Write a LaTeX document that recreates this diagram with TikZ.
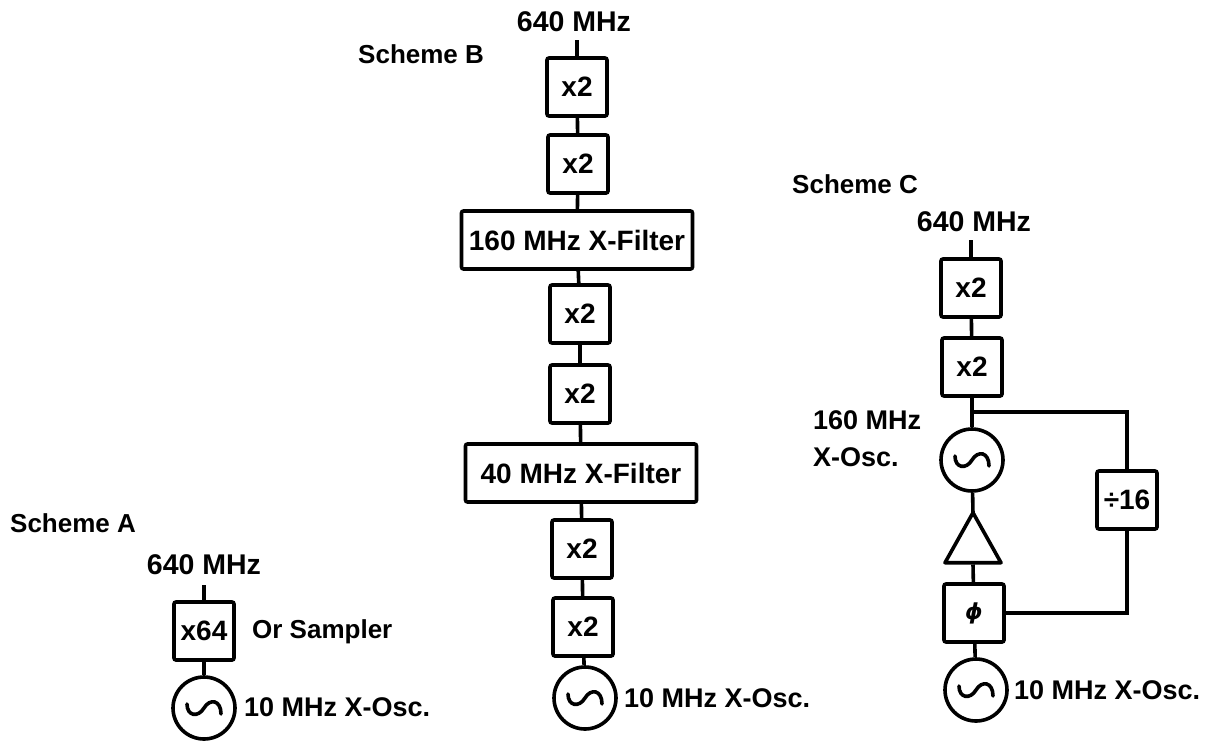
\documentclass[tikz,border=0pt]{standalone}
\usepackage{fontspec}
\setmainfont{Liberation Sans}
\newfontfamily\phasefont{DejaVu Sans}
\usetikzlibrary{shapes.geometric}
\def\multBoxes{{(204, 631)/xA/x64}, {(577, 87)/xBa/x2}, {(578, 164)/xBb/x2}, {(580, 314)/xBc/x2}, {(580, 394)/xBd/x2}, {(582, 549)/xBe/x2}, {(583, 627)/xBf/x2}, {(971, 288)/xCa/x2}, {(972, 367)/xCb/x2}}
\def\filterBoxes{{(577, 240)/filterHi/160 MHz X-Filter}, {(581, 473)/filterLo/40 MHz X-Filter}}
\def\oscillators{{(204, 708)/oscA}, {(585, 698)/oscB}, {(972, 460)/oscHi}, {(976, 690)/oscC}}
\def\outputs{{(204, 565)/outA/topA}, {(574, 22)/outB/topB}, {(974, 222)/outC/topC}}
\def\schemeNames{{(10, 523)/nameA/Scheme A}, {(358, 54)/nameB/Scheme B}, {(792, 184)/nameC/Scheme C}}
\def\sideLabels{{(244, 707)/tenA/10 MHz X-Osc.}, {(624, 698)/tenB/10 MHz X-Osc.}, {(1014, 690)/tenC/10 MHz X-Osc.}, {(813, 420)/hiA/160 MHz}, {(813, 457)/hiB/X-Osc.}}
\def\connect{topA/xA, xA/oscA, xBa/xBb, xBb/filterHi, filterHi/xBc, xBc/xBd, xBd/filterLo, filterLo/xBe, xBe/xBf, xBf/oscB, xCa/xCb, xCb/oscHi, phase/oscC}
\tikzstyle{textlabel}=[font=\fontsize{28}{30}\selectfont\bfseries,inner sep=0pt]
\tikzstyle{sidelabel}=[textlabel,anchor=west,font=\fontsize{27}{30}\selectfont\bfseries]
\tikzstyle{edge} = [draw, line width=3.6pt, -]
\tikzstyle{multbox}=[draw,line width=3.6pt,rounded corners=2pt,minimum width=60pt,minimum height=58pt,inner sep=0pt,textlabel]
\tikzstyle{filterbox}=[multbox,minimum width=231pt]
\tikzstyle{osc}=[circle,draw,line width=3.6pt,minimum size=62pt,inner sep=0pt,path picture={
    \draw[line width=3.6pt,line cap=round,shift={(path picture bounding box.center)}] (-17,-4) .. controls (-17,8) and (-6,10) .. (0,0) .. controls (6,-10) and (17,-8) .. (17,6);}]
\tikzstyle{amplifier}=[isosceles triangle,shape border rotate=90,isosceles triangle stretches,draw,line width=3.6pt,line join=round,minimum width=56pt,minimum height=50pt,inner sep=0pt]
\begin{document}
\begin{tikzpicture}[x=1pt,y=-1pt]
  \useasboundingbox (0, 0) rectangle (1208, 740);

  % The boxes and the filters
  \foreach \pos/\boxname/\boxtext in \multBoxes {
    \node[multbox] (\boxname) at \pos {\boxtext};
    }
  \node[multbox,font=\fontsize{22}{24}\selectfont\bfseries\itshape\phasefont] (phase) at (974, 613) {ϕ};
  \node[multbox] (divider) at (1127, 500) {÷16};
  \foreach \pos/\boxname/\boxtext in \filterBoxes {
    \node[filterbox] (\boxname) at \pos {\boxtext};
    }

  % The oscillators and the amplifier
  \foreach \pos/\oscname in \oscillators {
    \node[osc] (\oscname) at \pos {};
    }
  \node[amplifier,anchor=apex] (amp) at (973, 508) {};

  % The outputs
  \foreach \pos/\outname/\topname in \outputs {
    \node[textlabel,font=\fontsize{28.5}{30}\selectfont\bfseries] (\outname) at \pos {640 MHz};
    }
  \coordinate (topA) at (204, 585);
  \coordinate (topB) at (577, 40);
  \coordinate (topC) at (971, 240);

  % The texts
  \foreach \pos/\labelname/\labeltext in \schemeNames {
    \node[sidelabel,font=\fontsize{26}{28}\selectfont\bfseries] (\labelname) at \pos {\labeltext};
    }
  \foreach \pos/\labelname/\labeltext in \sideLabels {
    \node[sidelabel] (\labelname) at \pos {\labeltext};
    }
  \node[sidelabel,font=\fontsize{26}{28}\selectfont\bfseries] (sampler) at (252, 632) {Or Sampler};

  % All the connections
  \foreach \source/\sink in \connect {
    \path[edge] (\source) -- (\sink);
    }
  \path[edge] (topB) -- (xBa);
  \path[edge] (topC) -- (xCa);
  \path[edge] (oscHi) -- ([yshift=-6pt]amp.apex);
  \path[edge] (amp.lower side) -- (phase);

  % The loop through the divider
  \coordinate (tap) at (973, 412);
  \path[edge] (tap) -| (divider);
  \path[edge] (divider) |- (phase);
\end{tikzpicture}
\end{document}
